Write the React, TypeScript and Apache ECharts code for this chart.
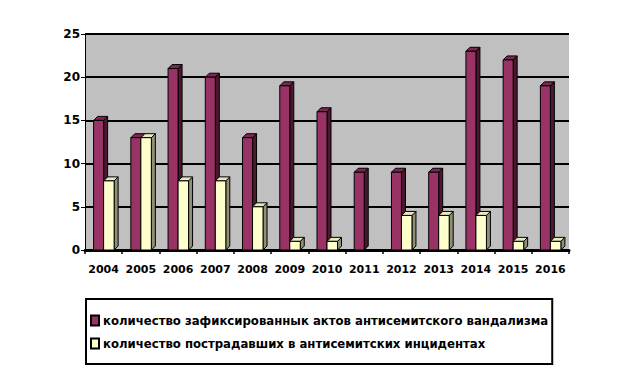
import React, { useEffect, useRef } from "react";
import * as echarts from "echarts";

const years = ["2004", "2005", "2006", "2007", "2008", "2009", "2010", "2011", "2012", "2013", "2014", "2015", "2016"];
const vandalism = [15, 13, 21, 20, 13, 19, 16, 9, 9, 9, 23, 22, 19];
const victims = [8, 13, 8, 8, 5, 1, 1, 0, 4, 4, 4, 1, 1];
const seriesNames = [
  "количество зафиксированнык актов антисемитского вандализма",
  "количество пострадавших в антисемитских инцидентах",
];
const yTicks = { min: 0, max: 25, interval: 5 };

const FONT = "'DejaVu Sans', sans-serif";
const LFONT = "'DejaVu Sans Condensed', 'DejaVu Sans', sans-serif";

function makeRender(offset: number, width: number, colors: { front: string; side: string; top: string }) {
  const d = 4;
  return (params: any, api: any) => {
    const v = api.value(1);
    if (!v) return null;
    const base = api.coord([api.value(0), 0]);
    const top = api.coord([api.value(0), v]);
    const x0 = base[0] + offset;
    const x1 = x0 + width;
    const yt = top[1];
    const yb = base[1];
    const line = { stroke: "#000", lineWidth: 1 };
    return {
      type: "group",
      children: [
        {
          type: "polygon",
          shape: { points: [[x1, yt], [x1 + d, yt - d], [x1 + d, yb - d], [x1, yb]] },
          style: { fill: colors.side, ...line },
        },
        {
          type: "polygon",
          shape: { points: [[x0, yt], [x0 + d, yt - d], [x1 + d, yt - d], [x1, yt]] },
          style: { fill: colors.top, ...line },
        },
        {
          type: "rect",
          shape: { x: x0, y: yt, width: width, height: yb - yt },
          style: { fill: colors.front, ...line },
        },
      ],
    };
  };
}

export default function App() {
  const ref = useRef<HTMLDivElement>(null);
  useEffect(() => {
    if (!ref.current) return;
    const chart = echarts.init(ref.current, null, { renderer: "svg" });
    chart.setOption({
      animation: false,
      backgroundColor: "#fff",
      grid: {
        left: 85,
        right: 64,
        top: 34,
        bottom: 115,
        show: true,
        backgroundColor: "#c0c0c0",
        borderWidth: 0,
      },
      legend: {
        orient: "vertical",
        left: 86,
        top: 299,
        borderColor: "#000",
        borderWidth: 2,
        padding: [15, 4, 14, 4],
        itemGap: 10,
        itemWidth: 8,
        itemHeight: 10,
        icon: "rect",
        textStyle: { fontFamily: LFONT, fontWeight: "bold", fontSize: 13, color: "#000", padding: [0, 0, 0, -1] },
        data: seriesNames,
      },
      xAxis: {
        type: "category",
        data: years,
        boundaryGap: true,
        axisLine: { show: true, lineStyle: { color: "#000", width: 3 } },
        axisTick: { show: true, length: 4, lineStyle: { color: "#000", width: 1.5 } },
        axisLabel: { interval: 0, fontFamily: FONT, fontWeight: "bold", fontSize: 11, color: "#000", margin: 14 },
        splitLine: { show: false },
      },
      yAxis: {
        type: "value",
        min: yTicks.min,
        max: yTicks.max,
        interval: yTicks.interval,
        axisLine: { show: true, lineStyle: { color: "#000", width: 1 } },
        axisTick: { show: true, length: 4, lineStyle: { color: "#000", width: 1 } },
        axisLabel: { fontFamily: FONT, fontWeight: "bold", fontSize: 12, color: "#000", margin: 5 },
        splitLine: { show: true, lineStyle: { color: "#000", width: 2 } },
      },
      series: [
        {
          name: seriesNames[0],
          type: "custom",
          itemStyle: { color: "#993366", borderColor: "#000", borderWidth: 1 },
          renderItem: makeRender(-10, 10, { front: "#993366", side: "#4a1830", top: "#7a2850" }),
          encode: { x: 0, y: 1 },
          data: vandalism.map((v, i) => [i, v]),
        },
        {
          name: seriesNames[1],
          type: "custom",
          itemStyle: { color: "#ffffcc", borderColor: "#000", borderWidth: 1 },
          renderItem: makeRender(0, 10.5, { front: "#ffffcc", side: "#8f8f78", top: "#e8e8c0" }),
          encode: { x: 0, y: 1 },
          data: victims.map((v, i) => [i, v]),
        },
      ],
    });
    return () => chart.dispose();
  }, []);
  return <div ref={ref} style={{ width: 633, height: 365, position: "absolute", left: 0, top: 0 }} />;
}
